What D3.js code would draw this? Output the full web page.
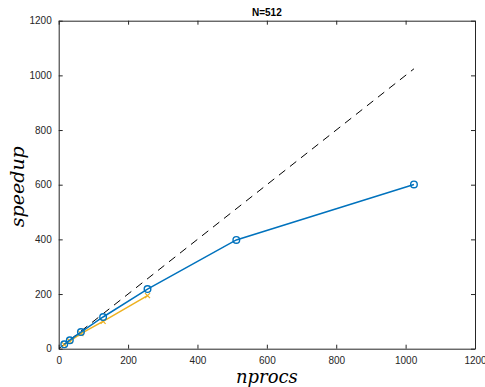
<!DOCTYPE html>
<html>
<head>
<meta charset="utf-8">
<script src="https://cdn.jsdelivr.net/npm/d3@7"></script>
<style>
  body { margin: 0; background: #fff; }
  svg { display: block; }
</style>
</head>
<body>
<script>
const width = 485;
const height = 387;

const xTicks = [0, 200, 400, 600, 800, 1000, 1200];
const yTicks = [0, 200, 400, 600, 800, 1000, 1200];

const procsA = [16, 32, 64, 128, 256, 512, 1024];
const speedupA = [16, 31, 61, 116, 218, 398, 601];

const procsB = [16, 32, 64, 128, 256];
const speedupB = [15, 28, 55, 100, 194];

const idealProcs = [1, 1024];

const margin = { left: 58.7, right: 485 - 475, top: 20.7, bottom: 387 - 348.7 };

const svg = d3.select('body').append('svg').attr('width', width).attr('height', height);

const x = d3.scaleLinear().domain([0, 1200]).range([margin.left, width - margin.right]);
const y = d3.scaleLinear().domain([0, 1200]).range([height - margin.bottom, margin.top]);

const axisColor = '#262626';

// box + ticks
function drawAxis(axis, transform) {
  const g = svg.append('g').attr('transform', transform).call(axis);
  g.select('.domain').attr('stroke', axisColor).attr('stroke-width', 1);
  g.selectAll('.tick line').attr('stroke', axisColor);
  g.selectAll('.tick text')
    .attr('fill', axisColor)
    .style('font-family', 'Liberation Sans, Arial, sans-serif')
    .style('font-size', '10px');
  return g;
}

const fmt = d3.format('d');

drawAxis(
  d3.axisBottom(x).tickValues(xTicks).tickFormat(fmt).tickSizeInner(-4).tickSizeOuter(0).tickPadding(8),
  `translate(0,${y(0)})`
);
drawAxis(
  d3.axisLeft(y).tickValues(yTicks).tickFormat(fmt).tickSizeInner(-4).tickSizeOuter(0).tickPadding(7),
  `translate(${x(0)},0)`
);
drawAxis(
  d3.axisTop(x).tickValues(xTicks).tickSizeInner(-4).tickSizeOuter(0).tickFormat(''),
  `translate(0,${y(1200)})`
);
drawAxis(
  d3.axisRight(y).tickValues(yTicks).tickSizeInner(-4).tickSizeOuter(0).tickFormat(''),
  `translate(${x(1200)},0)`
);

const line = d3.line().x(d => x(d[0])).y(d => y(d[1]));

// ideal speedup
svg.append('path')
  .datum(idealProcs.map(p => [p, p]))
  .attr('d', line)
  .attr('fill', 'none')
  .attr('stroke', '#000')
  .attr('stroke-width', 1)
  .attr('stroke-dasharray', '8,6');

// series B (yellow)
const dataB = procsB.map((p, i) => [p, speedupB[i]]);
svg.append('path')
  .datum(dataB)
  .attr('d', line)
  .attr('fill', 'none')
  .attr('stroke', '#EDB120')
  .attr('stroke-width', 1.5);

svg.selectAll('.xmark')
  .data(dataB)
  .enter()
  .append('path')
  .attr('class', 'xmark')
  .attr('d', d3.symbol(d3.symbolX, 18))
  .attr('transform', d => `translate(${x(d[0])},${y(d[1])})`)
  .attr('fill', 'none')
  .attr('stroke', '#EDB120')
  .attr('stroke-width', 1.2);

// series A (blue)
const dataA = procsA.map((p, i) => [p, speedupA[i]]);
svg.append('path')
  .datum(dataA)
  .attr('d', line)
  .attr('fill', 'none')
  .attr('stroke', '#0072BD')
  .attr('stroke-width', 1.5);

svg.selectAll('.omark')
  .data(dataA)
  .enter()
  .append('circle')
  .attr('class', 'omark')
  .attr('cx', d => x(d[0]))
  .attr('cy', d => y(d[1]))
  .attr('r', 3.3)
  .attr('fill', 'none')
  .attr('stroke', '#0072BD')
  .attr('stroke-width', 1.4);

// title
svg.append('text')
  .attr('x', (x(0) + x(1200)) / 2)
  .attr('y', 16)
  .attr('text-anchor', 'middle')
  .style('font-family', 'Liberation Sans, Arial, sans-serif')
  .style('font-size', '10px')
  .style('font-weight', 'bold')
  .attr('fill', '#000')
  .text('N=512');

// axis labels
svg.append('text')
  .attr('x', (x(0) + x(1200)) / 2)
  .attr('y', 383)
  .attr('text-anchor', 'middle')
  .style('font-family', 'DejaVu Serif, serif')
  .style('font-style', 'italic')
  .style('font-size', '18px')
  .attr('fill', '#000')
  .text('nprocs');

svg.append('text')
  .attr('transform', `translate(24,${(y(0) + y(1200)) / 2 + 2}) rotate(-90)`)
  .attr('text-anchor', 'middle')
  .style('font-family', 'DejaVu Serif, serif')
  .style('font-style', 'italic')
  .style('font-size', '19px')
  .attr('fill', '#000')
  .text('speedup');
</script>
</body>
</html>
